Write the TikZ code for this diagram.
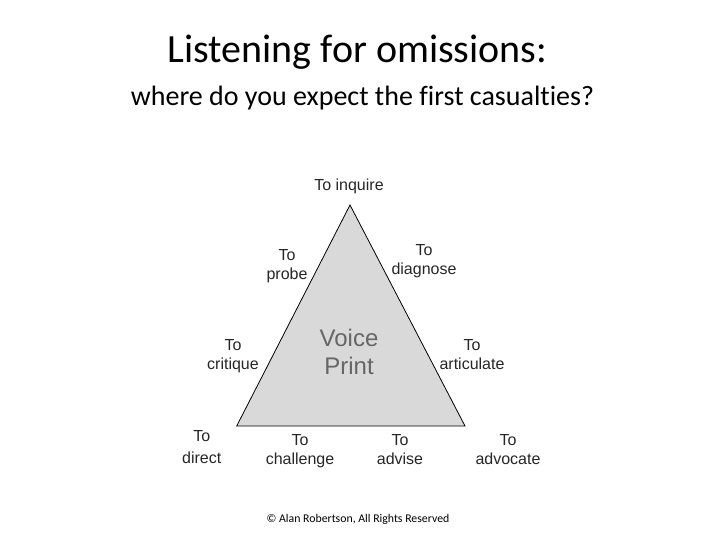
\documentclass[tikz,border=0pt]{standalone}
\usepackage{fontspec}
\setmainfont{Liberation Sans}
\newfontfamily\calibri[Ligatures=NoCommon]{Carlito}
\begin{document}
\begin{tikzpicture}[x=1pt,y=-1pt,
  lbl/.style={font=\fontsize{16}{19}\selectfont, align=center, inner sep=0pt, anchor=base, text=black!85},
  big/.style={font=\fontsize{24}{28}\selectfont, align=center, inner sep=0pt, anchor=base, text=black!60}]
\useasboundingbox (0,0) rectangle (720,540);
\coordinate (apex) at (350,205);
\coordinate (bl) at (236.7,426);
\coordinate (br) at (465,426);
\draw[fill=black!15, line width=0.8pt, line join=miter] (apex) -- (br) -- (bl) -- cycle;
\node[font=\calibri\fontsize{40}{44}\selectfont, inner sep=0pt, anchor=base] (title) at (357.5,62.7) {Listening for omissions:};
\node[font=\calibri\fontsize{28}{32}\selectfont, inner sep=0pt, anchor=base] (sub) at (362.5,106) {where do you expect the first casualties?};
\node[lbl] (inq) at (349,191) {To inquire};
\node[lbl] (probe) at (287,279) {To\\probe};
\node[lbl] (diag) at (424,274) {To\\diagnose};
\node[lbl] (crit) at (233,369) {To\\critique};
\node[lbl] (artic) at (472,369) {To\\articulate};
\node[big] (vp) at (349,374) {Voice\\Print};
\node[lbl] (dir) at (201.7,463) {To\\[3pt]direct};
\node[lbl] (chal) at (300,464.3) {To\\challenge};
\node[lbl] (adv) at (400,464) {To\\advise};
\node[lbl] (advo) at (508,464) {To\\advocate};
\node[font=\calibri\fontsize{11.8}{14}\selectfont, inner sep=0pt, anchor=base] (copy) at (358,522) {© Alan Robertson, All Rights Reserved};
\end{tikzpicture}
\end{document}
